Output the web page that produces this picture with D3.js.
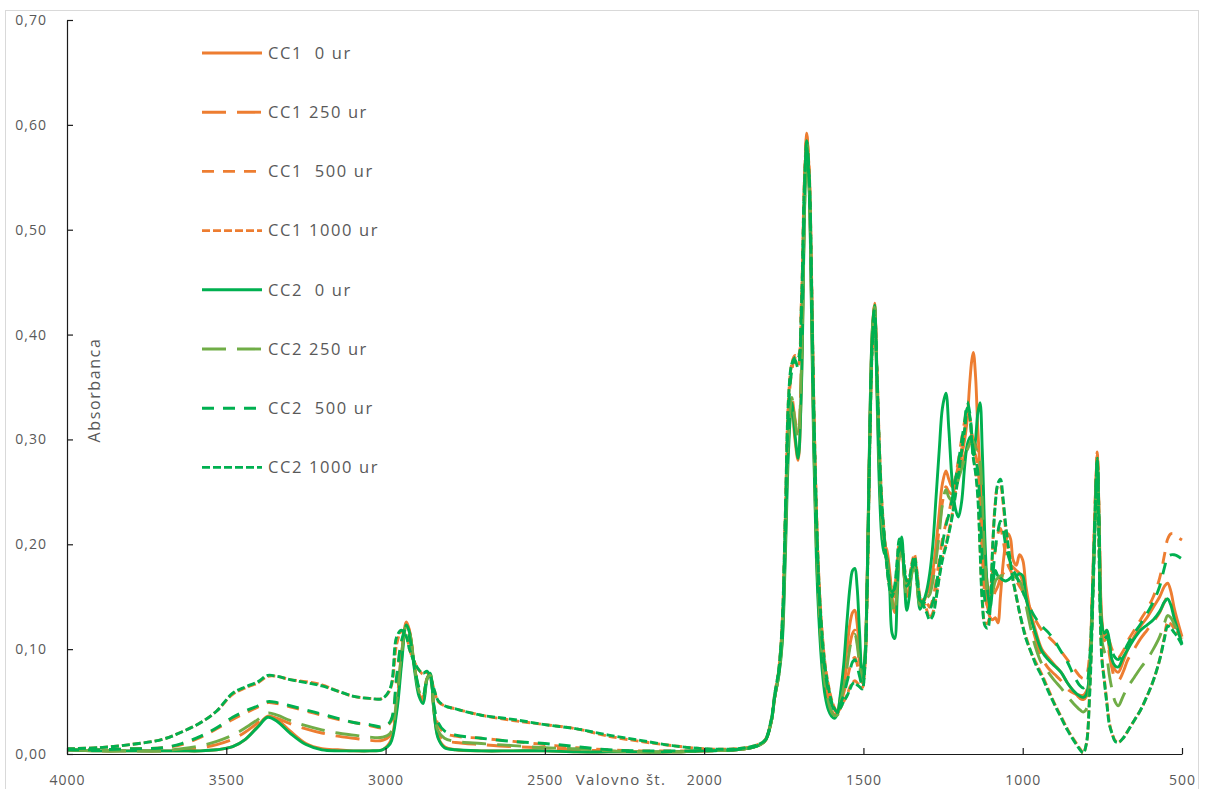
<!DOCTYPE html>
<html>
<head>
<meta charset="utf-8">
<script src="https://cdn.jsdelivr.net/npm/d3@7"></script>
<style>
  body { margin: 0; background: #fff; }
  text { font-family: "Open Sans", "Noto Sans", sans-serif; fill: #595959; }
</style>
</head>
<body>
<svg id="chart" width="1206" height="789"></svg>
<script>
// FTIR absorbance spectra, wavenumber axis runs 4000 -> 500 cm-1
const wavenumbers = [
  4000,3900,3800,3700,3640,3580,3530,3480,3440,3400,
  3370,3340,3300,3250,3200,3150,3100,3050,3010,2985,
  2965,2950,2935,2925,2910,2895,2882,2870,2860,2848,
  2835,2815,2780,2700,2600,2500,2400,2300,2200,2100,
  2000,1900,1840,1810,1790,1778,1766,1755,1745,1735,
  1725,1715,1705,1695,1685,1678,1670,1663,1656,1648,
  1640,1630,1620,1610,1600,1592,1582,1572,1562,1552,
  1542,1534,1527,1520,1512,1504,1496,1488,1480,1472,
  1465,1458,1450,1442,1435,1427,1418,1410,1402,1394,
  1387,1380,1372,1364,1356,1348,1340,1332,1322,1312,
  1302,1292,1282,1272,1262,1252,1241,1232,1222,1212,
  1202,1192,1182,1174,1166,1160,1155,1148,1141,1134,
  1127,1118,1110,1102,1094,1086,1078,1070,1062,1054,
  1046,1038,1030,1020,1010,1000,990,975,960,940,
  920,900,880,860,840,820,810,800,790,780,
  772,766,760,752,744,736,728,720,710,700,
  685,670,650,630,610,590,570,555,545,535,
  525,515,500
];

const cc1_0 = [
  .004,.003,.003,.003,.003,.003,.004,.007,.014,.027,
  .036,.033,.022,.010,.005,.004,.003,.003,.004,.012,
  .045,.090,.126,.118,.085,.058,.050,.072,.076,.040,
  .016,.007,.004,.003,.003,.003,.002,.002,.002,.002,
  .003,.004,.007,.012,.030,.055,.075,.110,.200,.300,
  .332,.300,.280,.350,.520,.592,.540,.430,.300,.200,
  .140,.090,.062,.048,.040,.037,.040,.055,.075,.100,
  .125,.135,.137,.125,.095,.075,.090,.170,.310,.405,
  .430,.360,.270,.215,.200,.195,.175,.150,.135,.160,
  .190,.195,.170,.150,.160,.175,.182,.168,.145,.145,
  .152,.160,.175,.200,.230,.258,.270,.262,.255,.262,
  .275,.285,.300,.320,.355,.375,.383,.360,.310,.270,
  .220,.170,.140,.130,.128,.130,.125,.150,.180,.200,
  .210,.205,.185,.180,.190,.185,.160,.135,.118,.100,
  .092,.085,.078,.068,.060,.053,.052,.055,.080,.160,
  .240,.285,.220,.130,.112,.118,.100,.088,.080,.078,
  .088,.100,.112,.122,.130,.140,.150,.160,.163,.155,
  .140,.128,.112
];

const cc1_250 = [
  .004,.003,.003,.003,.004,.006,.009,.014,.021,.030,
  .036,.034,.029,.024,.020,.017,.015,.013,.013,.018,
  .050,.095,.124,.117,.086,.060,.052,.072,.075,.042,
  .020,.013,.011,.009,.007,.006,.004,.003,.002,.002,
  .003,.004,.007,.012,.030,.055,.076,.115,.210,.310,
  .340,.320,.305,.370,.525,.590,.545,.440,.315,.215,
  .150,.098,.068,.052,.042,.038,.038,.050,.065,.085,
  .105,.115,.118,.108,.088,.072,.088,.168,.305,.400,
  .428,.365,.280,.225,.205,.190,.170,.155,.150,.170,
  .192,.195,.172,.155,.162,.175,.180,.165,.145,.145,
  .150,.155,.168,.190,.215,.240,.255,.250,.248,.255,
  .265,.275,.285,.292,.300,.305,.300,.295,.290,.275,
  .235,.185,.160,.150,.150,.155,.160,.168,.172,.175,
  .178,.180,.178,.175,.172,.165,.150,.128,.110,.092,
  .082,.076,.070,.062,.058,.056,.056,.060,.085,.165,
  .245,.283,.225,.125,.108,.110,.095,.082,.072,.070,
  .078,.090,.100,.110,.118,.126,.135,.145,.150,.145,
  .135,.125,.110
];

const cc1_500 = [
  .004,.004,.005,.006,.009,.016,.024,.033,.039,.045,
  .049,.048,.045,.041,.037,.033,.030,.027,.025,.030,
  .070,.105,.120,.112,.085,.062,.055,.070,.071,.045,
  .028,.020,.017,.015,.012,.009,.006,.004,.003,.003,
  .003,.004,.007,.012,.030,.055,.078,.120,.225,.330,
  .365,.378,.370,.420,.545,.588,.552,.455,.335,.235,
  .165,.112,.080,.062,.050,.043,.040,.048,.058,.070,
  .083,.090,.092,.086,.076,.068,.085,.165,.300,.395,
  .425,.370,.290,.235,.210,.185,.165,.158,.160,.178,
  .195,.192,.175,.160,.165,.178,.185,.170,.148,.148,
  .145,.140,.148,.165,.185,.205,.220,.230,.245,.262,
  .280,.300,.318,.330,.320,.305,.290,.285,.275,.240,
  .190,.150,.140,.150,.175,.195,.210,.215,.205,.190,
  .180,.175,.170,.165,.160,.155,.148,.138,.128,.118,
  .112,.106,.098,.090,.082,.074,.072,.075,.095,.170,
  .245,.280,.225,.120,.112,.115,.108,.100,.094,.092,
  .098,.108,.118,.128,.138,.150,.168,.190,.205,.210,
  .210,.207,.204
];

const cc1_1000 = [
  .005,.006,.009,.014,.021,.030,.041,.057,.063,.068,
  .074,.074,.071,.069,.066,.060,.055,.053,.053,.062,
  .105,.117,.113,.100,.088,.080,.076,.078,.074,.062,
  .050,.046,.043,.037,.032,.028,.024,.017,.012,.008,
  .005,.005,.008,.013,.032,.058,.080,.125,.230,.340,
  .372,.380,.380,.430,.550,.586,.555,.460,.340,.240,
  .170,.118,.085,.066,.052,.045,.040,.044,.050,.056,
  .064,.068,.070,.068,.065,.063,.080,.160,.295,.390,
  .420,.372,.295,.240,.212,.182,.160,.150,.158,.180,
  .200,.198,.180,.165,.168,.182,.190,.175,.150,.145,
  .138,.130,.135,.150,.170,.188,.200,.212,.228,.248,
  .268,.290,.310,.325,.320,.300,.285,.270,.250,.200,
  .150,.125,.125,.145,.200,.240,.255,.255,.240,.215,
  .195,.180,.165,.150,.135,.122,.112,.098,.088,.076,
  .062,.048,.036,.024,.014,.005,.001,.010,.060,.150,
  .235,.288,.190,.095,.072,.050,.030,.020,.013,.011,
  .015,.022,.032,.042,.055,.070,.090,.112,.125,.124,
  .120,.116,.110
];

const cc2_0 = [
  .004,.003,.003,.003,.003,.003,.004,.007,.014,.026,
  .035,.031,.020,.009,.004,.003,.003,.003,.004,.010,
  .040,.085,.123,.116,.082,.055,.048,.071,.077,.040,
  .015,.006,.004,.003,.003,.003,.002,.002,.002,.002,
  .003,.004,.007,.012,.030,.055,.074,.105,.190,.290,
  .335,.305,.282,.345,.515,.585,.535,.420,.290,.190,
  .130,.082,.055,.042,.036,.034,.038,.058,.085,.125,
  .160,.175,.177,.160,.115,.075,.090,.170,.315,.405,
  .428,.350,.255,.205,.192,.188,.160,.115,.110,.150,
  .195,.207,.170,.137,.150,.175,.185,.165,.138,.145,
  .155,.172,.200,.245,.290,.330,.344,.310,.262,.235,
  .226,.240,.275,.295,.302,.298,.285,.300,.325,.335,
  .290,.200,.155,.140,.160,.175,.170,.168,.166,.165,
  .166,.168,.170,.170,.172,.170,.150,.130,.115,.098,
  .090,.084,.078,.068,.060,.055,.054,.057,.080,.155,
  .230,.278,.215,.125,.115,.118,.108,.090,.084,.083,
  .092,.100,.110,.118,.123,.128,.136,.145,.148,.142,
  .130,.120,.105
];

const cc2_250 = [
  .004,.003,.003,.003,.005,.008,.012,.018,.025,.033,
  .039,.037,.032,.027,.023,.020,.018,.016,.016,.020,
  .052,.095,.122,.116,.085,.060,.053,.072,.075,.043,
  .022,.015,.012,.010,.008,.006,.005,.003,.002,.002,
  .003,.004,.007,.012,.030,.055,.075,.112,.205,.305,
  .340,.318,.302,.365,.520,.582,.540,.435,.310,.210,
  .145,.095,.065,.050,.040,.037,.037,.050,.063,.082,
  .102,.112,.114,.105,.085,.070,.088,.168,.308,.400,
  .426,.360,.275,.222,.200,.185,.165,.145,.135,.160,
  .188,.192,.170,.152,.158,.172,.178,.162,.142,.142,
  .148,.152,.165,.185,.210,.238,.252,.245,.242,.250,
  .262,.272,.282,.290,.296,.300,.298,.292,.288,.280,
  .240,.180,.155,.150,.155,.165,.168,.170,.170,.170,
  .172,.172,.170,.168,.165,.158,.142,.120,.102,.086,
  .078,.070,.063,.055,.048,.042,.040,.043,.070,.150,
  .225,.270,.210,.110,.098,.092,.075,.062,.050,.046,
  .055,.064,.073,.082,.090,.100,.112,.125,.132,.130,
  .124,.118,.112
];

const cc2_500 = [
  .004,.004,.005,.006,.010,.017,.025,.035,.041,.046,
  .050,.049,.046,.042,.038,.034,.030,.028,.026,.031,
  .075,.108,.120,.112,.086,.063,.056,.070,.071,.046,
  .030,.022,.018,.015,.012,.010,.007,.004,.003,.003,
  .003,.004,.007,.012,.030,.056,.078,.120,.225,.330,
  .365,.376,.368,.415,.540,.584,.548,.450,.330,.230,
  .160,.108,.078,.060,.048,.042,.040,.048,.056,.068,
  .080,.088,.090,.084,.074,.066,.084,.165,.300,.395,
  .424,.368,.288,.232,.208,.182,.162,.155,.158,.178,
  .196,.195,.176,.160,.164,.176,.184,.168,.146,.145,
  .142,.138,.145,.160,.180,.200,.218,.228,.242,.260,
  .278,.298,.318,.336,.325,.305,.290,.282,.270,.235,
  .185,.145,.135,.145,.170,.195,.212,.222,.215,.200,
  .190,.182,.175,.170,.162,.155,.148,.138,.130,.122,
  .116,.108,.098,.088,.075,.065,.063,.066,.090,.165,
  .240,.280,.220,.118,.110,.112,.104,.098,.092,.090,
  .096,.105,.115,.124,.134,.145,.160,.178,.188,.190,
  .190,.189,.186
];

const cc2_1000 = [
  .005,.006,.009,.014,.021,.030,.041,.058,.064,.069,
  .075,.074,.071,.068,.065,.060,.055,.053,.053,.063,
  .112,.118,.112,.100,.088,.080,.077,.079,.074,.062,
  .051,.046,.043,.037,.033,.028,.024,.018,.013,.008,
  .005,.005,.008,.013,.032,.058,.080,.125,.230,.340,
  .372,.378,.378,.425,.545,.578,.550,.455,.335,.235,
  .165,.115,.082,.064,.050,.044,.040,.044,.050,.055,
  .062,.067,.068,.066,.064,.062,.080,.160,.295,.390,
  .418,.370,.292,.238,.210,.180,.158,.150,.160,.185,
  .205,.200,.180,.165,.168,.180,.188,.172,.148,.142,
  .135,.128,.132,.148,.168,.185,.198,.210,.225,.245,
  .265,.288,.310,.330,.322,.298,.282,.268,.245,.195,
  .145,.122,.120,.140,.200,.238,.258,.262,.245,.220,
  .200,.182,.165,.150,.135,.122,.110,.098,.086,.074,
  .060,.047,.035,.023,.013,.004,.001,.010,.055,.145,
  .230,.282,.185,.092,.070,.048,.028,.020,.012,.011,
  .015,.022,.032,.042,.055,.070,.090,.110,.122,.120,
  .116,.112,.104
];

const seriesLabels = ["CC1  0 ur", "CC1 250 ur", "CC1  500 ur", "CC1 1000 ur",
                      "CC2  0 ur", "CC2 250 ur", "CC2  500 ur", "CC2 1000 ur"];
const seriesValues = [cc1_0, cc1_250, cc1_500, cc1_1000, cc2_0, cc2_250, cc2_500, cc2_1000];
const seriesColors = ["#ED7D31", "#ED7D31", "#ED7D31", "#ED7D31",
                      "#00B050", "#70AD47", "#00B050", "#00B050"];
const seriesDash = ["none", "24,11", "12,9", "8,3", "none", "24,11", "12,9", "8,3"];

const yTickValues = [0, 0.1, 0.2, 0.3, 0.4, 0.5, 0.6, 0.7];
const xTickValues = [4000, 3500, 3000, 2500, 2000, 1500, 1000, 500];

const svg = d3.select("#chart");
svg.append("rect").attr("width", 1206).attr("height", 789).attr("fill", "#fff");
// outer chart frame
svg.append("rect")
  .attr("x", 5.5).attr("y", 10.5).attr("width", 1193).attr("height", 800)
  .attr("fill", "none").attr("stroke", "#d9d9d9").attr("stroke-width", 1);

const x = d3.scaleLinear().domain([4000, 500]).range([67, 1182]);
const y = d3.scaleLinear().domain([0, 0.7]).range([754, 20]);

const commaFmt = v => d3.format(".2f")(v).replace(".", ",");

// spectra
const line = d3.line()
  .x(d => x(d[0]))
  .y(d => y(d[1]))
  .curve(d3.curveCatmullRom.alpha(0.5));

const plot = svg.append("g");
seriesValues.forEach((vals, i) => {
  const pts = wavenumbers.map((w, k) => [w, vals[k]]);
  plot.append("path")
    .datum(pts)
    .attr("d", line)
    .attr("fill", "none")
    .attr("stroke", seriesColors[i])
    .attr("stroke-width", 2.9)
    .attr("stroke-linejoin", "round")
    .attr("stroke-dasharray", seriesDash[i]);
});

// axes with inward ticks
const yAxis = d3.axisLeft(y).tickValues(yTickValues).tickFormat(commaFmt)
  .tickSizeInner(-6).tickSizeOuter(0).tickPadding(20);
const gy = svg.append("g").attr("transform", "translate(67,0)").call(yAxis);

const xAxis = d3.axisBottom(x).tickValues(xTickValues).tickFormat(d3.format("d"))
  .tickSizeInner(-6).tickSizeOuter(0).tickPadding(21);
const gx = svg.append("g").attr("transform", "translate(0,754)").call(xAxis);

[gx, gy].forEach(g => {
  g.select(".domain").attr("stroke", "#1a1a1a").attr("stroke-width", 1.2);
  g.selectAll(".tick line").attr("stroke", "#1a1a1a").attr("stroke-width", 1.2);
  g.selectAll("text").attr("fill", "#595959").style("font-size", "14px")
    .style("letter-spacing", "1px").attr("font-family", null);
});

// axis titles
svg.append("text")
  .attr("x", 621).attr("y", 781)
  .attr("text-anchor", "middle")
  .attr("dominant-baseline", "middle")
  .style("font-size", "15px")
  .style("letter-spacing", "1.3px")
  .text("Valovno št.");

svg.append("text")
  .attr("transform", "translate(100,390) rotate(-90)")
  .attr("text-anchor", "middle")
  .style("font-size", "16px")
  .style("letter-spacing", "1.6px")
  .text("Absorbanca");

// legend
const legend = svg.append("g");
seriesLabels.forEach((lab, i) => {
  const ly = 53 + i * 59.2;
  legend.append("line")
    .attr("x1", 202).attr("x2", 262).attr("y1", ly).attr("y2", ly)
    .attr("stroke", seriesColors[i]).attr("stroke-width", 2.9)
    .attr("stroke-dasharray", seriesDash[i]);
  legend.append("text")
    .attr("x", 268).attr("y", ly)
    .attr("dy", "0.35em")
    .style("font-size", "16.5px")
    .style("letter-spacing", "1.6px")
    .style("white-space", "pre")
    .text(lab);
});
</script>
</body>
</html>
